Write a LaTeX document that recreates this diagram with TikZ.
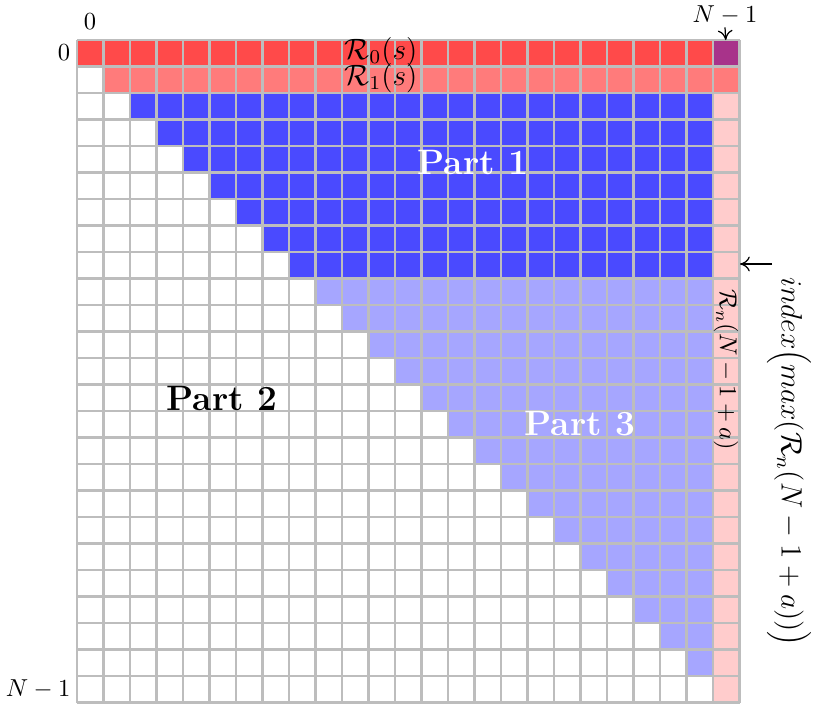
\documentclass[tikz,border=0pt]{standalone}
\usetikzlibrary{arrows.meta}
\definecolor{cred}{HTML}{FF4A4A}
\definecolor{clred}{HTML}{FF7B7B}
\definecolor{cblue}{HTML}{4A4AFF}
\definecolor{clblue}{HTML}{A6A6FF}
\definecolor{cpink}{HTML}{FFCCCC}
\definecolor{cpurple}{HTML}{A8338A}
\definecolor{cgrid}{HTML}{BDBDBD}
\tikzset{
  gridline/.style={draw=cgrid, line width=0.85pt},
  partlabel/.style={font=\Large\bfseries},
  pointer/.style={-{To[length=4pt,width=6pt]}, line width=0.5pt},
}
\newcommand{\cellfill}[3]{% row, col, color
  \fill[#3] ({77+#2*26.5},{40+#1*26.5}) rectangle ({77+(#2+1)*26.5},{40+(#1+1)*26.5});}
\begin{document}
\begin{tikzpicture}[x=0.4078pt,y=-0.4078pt]
\useasboundingbox (0,0) rectangle (824,705);
% row 0
\foreach \j in {0,...,23} {\cellfill{0}{\j}{cred}}
\cellfill{0}{24}{cpurple}
% row 1
\foreach \j in {1,...,24} {\cellfill{1}{\j}{clred}}
% part 1 rows
\foreach \i in {2,...,8} {
  \foreach \j in {\i,...,23} {\cellfill{\i}{\j}{cblue}}
}
% part 3 rows
\foreach \i in {9,...,23} {
  \foreach \j in {\i,...,23} {\cellfill{\i}{\j}{clblue}}
}
% last column
\foreach \i in {2,...,24} {\cellfill{\i}{24}{cpink}}
% grid
\foreach \k in {0,...,25} {
  \draw[gridline] ({77+\k*26.5},40) -- ({77+\k*26.5},702.5);
  \draw[gridline] (77,{40+\k*26.5}) -- (739.5,{40+\k*26.5});
}
% axis labels
\node (c0) at (90,22) {$0$};
\node (r0) at (64,53) {$0$};
\node[anchor=east, inner sep=0pt] (rN) at (71,689) {$N-1$};
\node[inner sep=0pt] (cN) at (725,15) {$N-1$};
\coordinate (cNcell) at (725.75,40);
\draw[pointer] ([yshift=-1pt]cN.south) -- (cNcell);
% row labels
\node[font=\large] (R0) at (381,52) {$\mathcal{R}_0(s)$};
\node[font=\large] (R1) at (381,78) {$\mathcal{R}_1(s)$};
% parts
\node[partlabel, text=white] (p1) at (473,162) {Part 1};
\node[partlabel] (p2) at (222,398) {Part 2};
\node[partlabel, text=white] (p3) at (580,424) {Part 3};
% column label
\node[rotate=-90] (Rn) at (726,370) {$\mathcal{R}_n(N-1+a)$};
% index label
\node[rotate=-90, font=\large, inner sep=0pt] (idx) at (789,462) {$index\Big(max(\mathcal{R}_n(N-1+a))\Big)$};
\coordinate (idxcell) at (740,264);
\draw[pointer] (772,264) -- (idxcell);
\end{tikzpicture}
\end{document}
